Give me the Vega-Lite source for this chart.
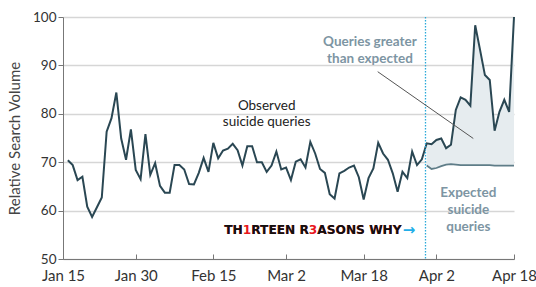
{
  "$schema": "https://vega.github.io/schema/vega-lite/v6.json",
  "width": 451,
  "height": 242,
  "autosize": {"type": "none"},
  "padding": {"left": 63, "top": 17, "right": 22, "bottom": 28},
  "background": "white",
  "config": {"view": {"stroke": null}, "font": "Lato"},
  "datasets": {
    "series": [
      {"date": "2017-01-16T00:00:00", "observed": 70.4},
      {"date": "2017-01-17T00:00:00", "observed": 69.4},
      {"date": "2017-01-18T00:00:00", "observed": 66.3},
      {"date": "2017-01-19T00:00:00", "observed": 67.0},
      {"date": "2017-01-20T00:00:00", "observed": 60.8},
      {"date": "2017-01-21T00:00:00", "observed": 58.7},
      {"date": "2017-01-22T00:00:00", "observed": 60.7},
      {"date": "2017-01-23T00:00:00", "observed": 62.7},
      {"date": "2017-01-24T00:00:00", "observed": 76.3},
      {"date": "2017-01-25T00:00:00", "observed": 79.1},
      {"date": "2017-01-26T00:00:00", "observed": 84.4},
      {"date": "2017-01-27T00:00:00", "observed": 74.9},
      {"date": "2017-01-28T00:00:00", "observed": 70.5},
      {"date": "2017-01-29T00:00:00", "observed": 76.8},
      {"date": "2017-01-30T00:00:00", "observed": 68.4},
      {"date": "2017-01-31T00:00:00", "observed": 66.5},
      {"date": "2017-02-01T00:00:00", "observed": 75.8},
      {"date": "2017-02-02T00:00:00", "observed": 67.4},
      {"date": "2017-02-03T00:00:00", "observed": 69.8},
      {"date": "2017-02-04T00:00:00", "observed": 65.1},
      {"date": "2017-02-05T00:00:00", "observed": 63.7},
      {"date": "2017-02-06T00:00:00", "observed": 63.7},
      {"date": "2017-02-07T00:00:00", "observed": 69.4},
      {"date": "2017-02-08T00:00:00", "observed": 69.4},
      {"date": "2017-02-09T00:00:00", "observed": 68.5},
      {"date": "2017-02-10T00:00:00", "observed": 65.5},
      {"date": "2017-02-11T00:00:00", "observed": 65.4},
      {"date": "2017-02-12T00:00:00", "observed": 67.8},
      {"date": "2017-02-13T00:00:00", "observed": 70.9},
      {"date": "2017-02-14T00:00:00", "observed": 68.0},
      {"date": "2017-02-15T00:00:00", "observed": 74.0},
      {"date": "2017-02-16T00:00:00", "observed": 70.8},
      {"date": "2017-02-17T00:00:00", "observed": 72.4},
      {"date": "2017-02-18T00:00:00", "observed": 72.8},
      {"date": "2017-02-19T00:00:00", "observed": 73.8},
      {"date": "2017-02-20T00:00:00", "observed": 72.5},
      {"date": "2017-02-21T00:00:00", "observed": 69.3},
      {"date": "2017-02-22T00:00:00", "observed": 73.3},
      {"date": "2017-02-23T00:00:00", "observed": 73.3},
      {"date": "2017-02-24T00:00:00", "observed": 70.0},
      {"date": "2017-02-25T00:00:00", "observed": 70.0},
      {"date": "2017-02-26T00:00:00", "observed": 68.0},
      {"date": "2017-02-27T00:00:00", "observed": 69.3},
      {"date": "2017-02-28T00:00:00", "observed": 72.2},
      {"date": "2017-03-01T00:00:00", "observed": 68.5},
      {"date": "2017-03-02T00:00:00", "observed": 68.9},
      {"date": "2017-03-03T00:00:00", "observed": 66.3},
      {"date": "2017-03-04T00:00:00", "observed": 70.1},
      {"date": "2017-03-05T00:00:00", "observed": 70.6},
      {"date": "2017-03-06T00:00:00", "observed": 68.9},
      {"date": "2017-03-07T00:00:00", "observed": 74.2},
      {"date": "2017-03-08T00:00:00", "observed": 71.8},
      {"date": "2017-03-09T00:00:00", "observed": 68.6},
      {"date": "2017-03-10T00:00:00", "observed": 67.8},
      {"date": "2017-03-11T00:00:00", "observed": 63.4},
      {"date": "2017-03-12T00:00:00", "observed": 62.5},
      {"date": "2017-03-13T00:00:00", "observed": 67.7},
      {"date": "2017-03-14T00:00:00", "observed": 68.2},
      {"date": "2017-03-15T00:00:00", "observed": 68.9},
      {"date": "2017-03-16T00:00:00", "observed": 69.3},
      {"date": "2017-03-17T00:00:00", "observed": 66.9},
      {"date": "2017-03-18T00:00:00", "observed": 62.3},
      {"date": "2017-03-19T00:00:00", "observed": 66.7},
      {"date": "2017-03-20T00:00:00", "observed": 68.7},
      {"date": "2017-03-21T00:00:00", "observed": 74.0},
      {"date": "2017-03-22T00:00:00", "observed": 71.8},
      {"date": "2017-03-23T00:00:00", "observed": 70.5},
      {"date": "2017-03-24T00:00:00", "observed": 67.7},
      {"date": "2017-03-25T00:00:00", "observed": 63.9},
      {"date": "2017-03-26T00:00:00", "observed": 68.0},
      {"date": "2017-03-27T00:00:00", "observed": 66.7},
      {"date": "2017-03-28T00:00:00", "observed": 72.2},
      {"date": "2017-03-29T00:00:00", "observed": 69.4},
      {"date": "2017-03-30T00:00:00", "observed": 70.6},
      {"date": "2017-03-31T00:00:00", "observed": 73.9, "expected": 69.3},
      {"date": "2017-04-01T00:00:00", "observed": 73.7, "expected": 68.6},
      {"date": "2017-04-02T00:00:00", "observed": 74.6, "expected": 68.8},
      {"date": "2017-04-03T00:00:00", "observed": 74.9, "expected": 69.2},
      {"date": "2017-04-04T00:00:00", "observed": 72.9, "expected": 69.5},
      {"date": "2017-04-05T00:00:00", "observed": 73.6, "expected": 69.6},
      {"date": "2017-04-06T00:00:00", "observed": 80.8, "expected": 69.5},
      {"date": "2017-04-07T00:00:00", "observed": 83.4, "expected": 69.4},
      {"date": "2017-04-08T00:00:00", "observed": 82.9, "expected": 69.4},
      {"date": "2017-04-09T00:00:00", "observed": 81.7, "expected": 69.4},
      {"date": "2017-04-10T00:00:00", "observed": 98.3, "expected": 69.4},
      {"date": "2017-04-11T00:00:00", "observed": 93.2, "expected": 69.4},
      {"date": "2017-04-12T00:00:00", "observed": 88.0, "expected": 69.4},
      {"date": "2017-04-13T00:00:00", "observed": 87.0, "expected": 69.4},
      {"date": "2017-04-14T00:00:00", "observed": 76.5, "expected": 69.3},
      {"date": "2017-04-15T00:00:00", "observed": 80.4, "expected": 69.3},
      {"date": "2017-04-16T00:00:00", "observed": 82.9, "expected": 69.3},
      {"date": "2017-04-17T00:00:00", "observed": 80.4, "expected": 69.3},
      {"date": "2017-04-18T00:00:00", "observed": 100.0, "expected": 69.3}
    ],
    "release": [{"date": "2017-03-30T18:00:00"}],
    "pointer": [{"date": "2017-03-20T21:30:00", "value": 88.7, "date2": "2017-04-09T14:30:00", "value2": 74.9}],
    "showtitle": [
      {"date": "2017-02-17T06:00:00", "value": 56.0, "red": "TH1RTEEN R3ASONS WHY", "black": "TH\u2007RTEEN R\u2007ASONS WHY"}
    ],
    "arrow": [{"date": "2017-03-26T02:00:00", "value": 56.0, "text": "→"}],
    "observedlabel": [{"date": "2017-02-26T00:00:00", "value": 81.6, "text": ["Observed", "suicide queries"]}],
    "bluelabels": [
      {"date": "2017-03-19T07:00:00", "value": 94.9, "text": ["Queries greater", "than expected"]},
      {"date": "2017-04-08T14:00:00", "value": 63.6, "text": ["Expected", "suicide", "queries"]}
    ]
  },
  "encoding": {
    "x": {
      "field": "date",
      "type": "temporal",
      "scale": {"domain": [{"year": 2017, "month": 1, "date": 15}, {"year": 2017, "month": 4, "date": 18}]},
      "axis": {
        "title": null,
        "values": [
          {"year": 2017, "month": 1, "date": 15},
          {"year": 2017, "month": 1, "date": 30},
          {"year": 2017, "month": 2, "date": 15},
          {"year": 2017, "month": 3, "date": 2},
          {"year": 2017, "month": 3, "date": 18},
          {"year": 2017, "month": 4, "date": 2},
          {"year": 2017, "month": 4, "date": 18}
        ],
        "format": "%b %-d",
        "grid": false,
        "domainColor": "#777",
        "tickColor": "#777",
        "tickSize": -5,
        "labelPadding": 14,
        "labelFontSize": 15,
        "labelColor": "#333",
        "labelFlush": false,
        "labelOverlap": false
      }
    }
  },
  "layer": [
    {
      "data": {"name": "series"},
      "transform": [{"filter": "isValid(datum.expected)"}],
      "mark": {"type": "area", "color": "#e6ecef", "opacity": 1},
      "encoding": {
        "y": {
          "field": "observed",
          "type": "quantitative",
          "stack": null,
          "scale": {"domain": [50, 100], "zero": false},
          "axis": {
            "title": "Relative Search Volume",
            "values": [50, 60, 70, 80, 90, 100],
            "grid": true,
            "gridColor": "#d6d6d6",
            "gridWidth": 1.5,
            "domainColor": "#777",
            "tickColor": "#777",
            "tickSize": 5,
            "labelPadding": 2,
            "labelFontSize": 13.5,
            "labelColor": "#333",
            "titleFontSize": 15,
            "titleFontWeight": "normal",
            "titleColor": "#444",
            "titlePadding": 10
          }
        },
        "y2": {"field": "expected"}
      }
    },
    {
      "data": {"name": "series"},
      "transform": [{"filter": "isValid(datum.expected)"}],
      "mark": {"type": "line", "color": "#5f7d88", "strokeWidth": 1.8},
      "encoding": {"y": {"field": "expected", "type": "quantitative"}}
    },
    {
      "data": {"name": "series"},
      "mark": {"type": "line", "color": "#2a4753", "strokeWidth": 2},
      "encoding": {"y": {"field": "observed", "type": "quantitative"}}
    },
    {
      "data": {"name": "release"},
      "mark": {"type": "rule", "color": "#2aa9d9", "strokeWidth": 1.3, "strokeDash": [1.5, 1.5]},
      "encoding": {}
    },
    {
      "data": {"name": "pointer"},
      "mark": {"type": "rule", "color": "#555", "strokeWidth": 1},
      "encoding": {
        "y": {"field": "value", "type": "quantitative"},
        "x2": {"field": "date2"},
        "y2": {"field": "value2"}
      }
    },
    {
      "data": {"name": "showtitle"},
      "mark": {"type": "text", "font": "DejaVu Sans", "fontWeight": "bold", "fontSize": 12.2, "align": "left", "baseline": "middle", "color": "#e8171d"},
      "encoding": {
        "y": {"field": "value", "type": "quantitative"},
        "text": {"field": "red"}
      }
    },
    {
      "data": {"name": "showtitle"},
      "mark": {"type": "text", "font": "DejaVu Sans", "fontWeight": "bold", "fontSize": 12.2, "align": "left", "baseline": "middle", "color": "#111111"},
      "encoding": {
        "y": {"field": "value", "type": "quantitative"},
        "text": {"field": "black"}
      }
    },
    {
      "data": {"name": "arrow"},
      "mark": {"type": "text", "font": "DejaVu Sans", "fontWeight": "bold", "fontSize": 15, "align": "left", "baseline": "middle", "color": "#22aee8"},
      "encoding": {
        "y": {"field": "value", "type": "quantitative"},
        "text": {"field": "text"}
      }
    },
    {
      "data": {"name": "observedlabel"},
      "mark": {"type": "text", "fontSize": 13.5, "color": "#222", "align": "center", "baseline": "middle", "lineHeight": 16},
      "encoding": {
        "y": {"field": "value", "type": "quantitative"},
        "text": {"field": "text"}
      }
    },
    {
      "data": {"name": "bluelabels"},
      "mark": {"type": "text", "fontSize": 13.5, "fontWeight": "bold", "color": "#7d95a3", "align": "center", "baseline": "middle", "lineHeight": 17},
      "encoding": {
        "y": {"field": "value", "type": "quantitative"},
        "text": {"field": "text"}
      }
    }
  ]
}
